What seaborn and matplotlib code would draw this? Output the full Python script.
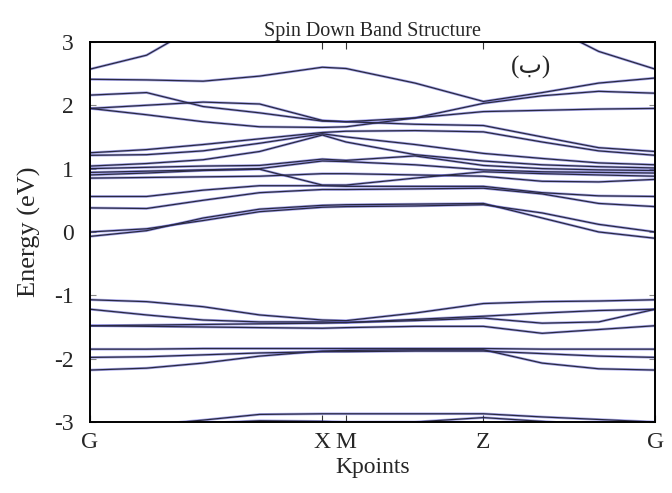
import numpy as np
import pandas as pd
import matplotlib
matplotlib.use("Agg")
import matplotlib.pyplot as plt
import seaborn as sns

# k-path sample positions (normalised path length) and the high-symmetry labels
kpath = [0.0, 0.1, 0.2, 0.3, 0.411, 0.453, 0.575, 0.696, 0.8, 0.9, 1.0]
kticks = [0.0, 0.411, 0.453, 0.696, 1.0]
klabels = ["G", "X", "M", "Z", "G"]

# conduction-side bands (eV) at the kpath points
u1 = [2.57, 2.79, 3.30, 3.60, 3.80, 3.80, 3.60, 3.45, 3.30, 2.85, 2.57]
u2 = [2.41, 2.40, 2.38, 2.46, 2.60, 2.58, 2.35, 2.06, 2.20, 2.35, 2.43]
u3 = [2.16, 2.20, 1.98, 1.88, 1.75, 1.74, 1.80, 1.90, 1.92, 1.94, 1.95]
u4 = [1.95, 2.00, 2.05, 2.02, 1.76, 1.74, 1.70, 1.68, 1.50, 1.33, 1.27]
u5 = [1.95, 1.85, 1.74, 1.66, 1.65, 1.66, 1.80, 2.03, 2.15, 2.22, 2.19]
u6 = [1.25, 1.30, 1.38, 1.47, 1.57, 1.59, 1.60, 1.58, 1.42, 1.28, 1.21]
u7 = [1.21, 1.22, 1.28, 1.40, 1.55, 1.50, 1.38, 1.24, 1.16, 1.09, 1.06]
u8 = [1.04, 1.08, 1.14, 1.27, 1.53, 1.42, 1.22, 1.12, 1.06, 1.03, 1.01]
u9 = [1.00, 1.02, 1.04, 1.05, 1.15, 1.13, 1.20, 1.05, 1.00, 0.98, 0.97]
u10 = [0.94, 0.96, 0.98, 1.00, 1.12, 1.11, 1.06, 0.98, 0.95, 0.94, 0.93]
u11 = [0.90, 0.93, 0.97, 0.99, 0.74, 0.74, 0.85, 0.95, 0.92, 0.90, 0.88]
u12 = [0.85, 0.86, 0.87, 0.88, 0.92, 0.92, 0.90, 0.88, 0.80, 0.79, 0.83]
w1 = [0.56, 0.56, 0.66, 0.73, 0.73, 0.72, 0.72, 0.72, 0.62, 0.57, 0.56]
w2 = [0.38, 0.37, 0.50, 0.62, 0.67, 0.67, 0.68, 0.69, 0.60, 0.45, 0.40]
w3 = [0.00, 0.05, 0.18, 0.32, 0.39, 0.40, 0.41, 0.43, 0.30, 0.12, 0.00]
w4 = [-0.07, 0.02, 0.22, 0.36, 0.42, 0.43, 0.44, 0.45, 0.22, 0.00, -0.10]

# valence-side bands (eV)
l1 = [-1.07, -1.10, -1.18, -1.31, -1.39, -1.40, -1.28, -1.13, -1.10, -1.09, -1.07]
l2 = [-1.22, -1.31, -1.39, -1.42, -1.42, -1.43, -1.40, -1.36, -1.44, -1.42, -1.22]
l3 = [-1.48, -1.49, -1.50, -1.51, -1.52, -1.51, -1.49, -1.49, -1.60, -1.54, -1.48]
l3b = [-1.48, -1.47, -1.46, -1.45, -1.44, -1.43, -1.38, -1.33, -1.28, -1.24, -1.22]
l4 = [-1.85, -1.85, -1.84, -1.84, -1.84, -1.84, -1.84, -1.84, -1.85, -1.85, -1.85]
l5 = [-1.98, -1.97, -1.94, -1.91, -1.89, -1.89, -1.88, -1.88, -1.92, -1.96, -1.98]
l6 = [-2.18, -2.15, -2.07, -1.96, -1.88, -1.87, -1.86, -1.86, -2.07, -2.16, -2.18]
v1 = [-3.25, -3.05, -2.97, -2.88, -2.87, -2.87, -2.87, -2.87, -2.92, -2.96, -3.00]
v2 = [-3.30, -3.15, -3.02, -2.98, -2.99, -3.00, -3.00, -2.93, -2.99, -3.05, -3.10]

bands = [u1, u2, u3, u4, u5, u6, u7, u8, u9, u10, u11, u12,
         w1, w2, w3, w4, l1, l2, l3, l3b, l4, l5, l6, v1, v2]

rows = []
for i, b in enumerate(bands):
    for k, e in zip(kpath, b):
        rows.append({"band": i, "k": k, "E": e})
df = pd.DataFrame(rows)

sns.set_style("white")
plt.rcParams["font.family"] = ["Liberation Serif", "DejaVu Sans"]

fig = plt.figure(figsize=(6.72, 4.93), dpi=100)
ax = fig.add_axes([0.134, 0.144, 0.841, 0.771])

# blue halo underneath, dark line on top
sns.lineplot(data=df, x="k", y="E", units="band", estimator=None, sort=False,
             color="#3c3cd2", lw=1.9, alpha=0.45, ax=ax, legend=False)
sns.lineplot(data=df, x="k", y="E", units="band", estimator=None, sort=False,
             color="#2a2a40", lw=0.9, ax=ax, legend=False)

ax.set_xlim(0, 1)
ax.set_ylim(-3, 3)
ax.set_xticks(kticks)
ax.set_xticklabels(klabels)
ax.set_yticks([-3, -2, -1, 0, 1, 2, 3])
ax.set_yticklabels(["-3", "-2", "-1", "0", "1", "2", "3"])
ax.tick_params(axis="x", direction="in", length=5, width=0.8, color="#333333",
               top=True, bottom=True, labelsize=17, pad=7)
ax.tick_params(axis="y", direction="in", length=4, width=0.8, color="#888888",
               left=True, right=True, labelsize=17, pad=12)
for s in ax.spines.values():
    s.set_linewidth(1.4)
    s.set_color("black")

ax.set_xlabel("Kpoints", fontsize=17, labelpad=3)
ax.set_ylabel("Energy (eV)", fontsize=19, labelpad=9)
ax.set_title("Spin Down Band Structure", fontsize=14.5, pad=4)
ax.text(0.78, 2.59, "(ب)", fontsize=18, ha="center", va="center",
        family=["Liberation Serif", "DejaVu Sans"])

fig.savefig("out.png", dpi=100)
